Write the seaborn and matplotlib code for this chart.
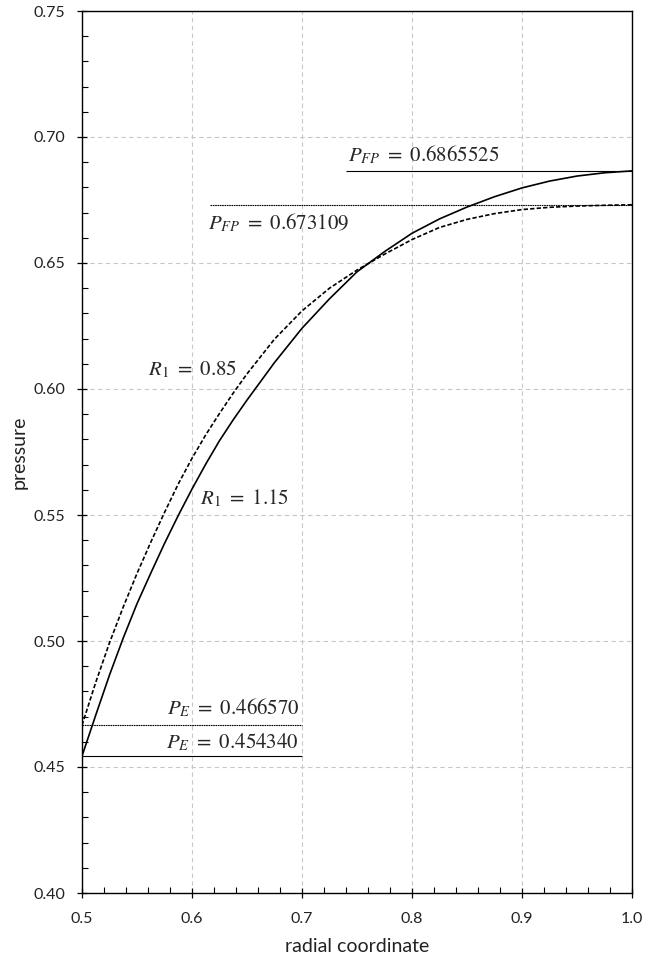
import matplotlib
matplotlib.use("Agg")
import matplotlib.pyplot as plt
import seaborn as sns
import pandas as pd
from matplotlib.ticker import MultipleLocator

# ---- data ----
radial = [0.500, 0.5125, 0.525, 0.5375, 0.550, 0.5625, 0.575, 0.5875, 0.600, 0.6125,
          0.625, 0.6375, 0.650, 0.675, 0.700, 0.725, 0.750, 0.775, 0.800, 0.825,
          0.850, 0.875, 0.900, 0.925, 0.950, 0.975, 1.000]
p_r115 = [0.45434, 0.4706, 0.4865, 0.5012, 0.5148, 0.5269, 0.5387, 0.5498, 0.5603, 0.5702,
          0.5795, 0.5878, 0.5956, 0.6105, 0.6241, 0.6358, 0.6465, 0.6545, 0.6618, 0.6675,
          0.6722, 0.6763, 0.6798, 0.6825, 0.6845, 0.6858, 0.6865525]
p_r085 = [0.46657, 0.4836, 0.4993, 0.5135, 0.5268, 0.5392, 0.5510, 0.5623, 0.5725, 0.5818,
          0.5903, 0.5984, 0.6060, 0.6198, 0.6310, 0.6400, 0.6472, 0.6535, 0.6593, 0.6641,
          0.6673, 0.6696, 0.6712, 0.6721, 0.6726, 0.6729, 0.673109]
series_labels = ["1.15", "0.85"]

pfp_115, pfp_085 = 0.6865525, 0.673109
pe_115, pe_085 = 0.454340, 0.466570

df = pd.DataFrame({
    "radial": radial + radial,
    "pressure": p_r115 + p_r085,
    "R1": [series_labels[0]] * len(radial) + [series_labels[1]] * len(radial),
})

sns.set_theme(style="white")
plt.rcParams["font.family"] = ["Lato", "DejaVu Sans"]
plt.rcParams["mathtext.fontset"] = "stix"

fig = plt.figure(figsize=(6.45, 9.61), dpi=100)
ax = fig.add_axes([82 / 645, 1 - 893 / 961, (632 - 82) / 645, (893 - 11) / 961])

sns.lineplot(data=df, x="radial", y="pressure", style="R1",
             dashes={"1.15": "", "0.85": (2.6, 1.3)}, color="black",
             linewidth=1.2, legend=False, ax=ax)

# reference levels
ax.hlines(pfp_115, 0.7400, 1.0, color="black", linewidth=0.8)
ax.hlines(pfp_085, 0.6164, 1.0, color="black", linewidth=0.8, linestyles=(0, (1.5, 0.6)))
ax.hlines(pe_085, 0.5, 0.7, color="black", linewidth=0.8, linestyles=(0, (1.5, 0.6)))
ax.hlines(pe_115, 0.5, 0.7, color="black", linewidth=0.8)

fs = 15
ax.text(0.7418, 0.6902, r"$P_{FP}\ =\ 0.6865525$", fontsize=fs, ha="left", va="baseline")
ax.text(0.6150, 0.6635, r"$P_{FP}\ =\ 0.673109$", fontsize=fs, ha="left", va="baseline")
ax.text(0.6980, 0.4709, r"$P_{E}\ =\ 0.466570$", fontsize=fs, ha="right", va="baseline")
ax.text(0.6966, 0.4576, r"$P_{E}\ =\ 0.454340$", fontsize=fs, ha="right", va="baseline")
ax.text(0.6406, 0.6056, r"$R_1\ =\ 0.85$", fontsize=fs, ha="right", va="baseline")
ax.text(0.6882, 0.5544, r"$R_1\ =\ 1.15$", fontsize=fs, ha="right", va="baseline")

ax.set_xlim(0.5, 1.0)
ax.set_ylim(0.40, 0.75)
ax.xaxis.set_major_locator(MultipleLocator(0.1))
ax.xaxis.set_minor_locator(MultipleLocator(0.02))
ax.yaxis.set_major_locator(MultipleLocator(0.05))
ax.yaxis.set_minor_locator(MultipleLocator(0.01))
ax.xaxis.set_major_formatter(plt.FuncFormatter(lambda v, p: f"{v:.1f}"))
ax.yaxis.set_major_formatter(plt.FuncFormatter(lambda v, p: f"{v:.2f}"))

ax.grid(True, which="major", color="#c8c8c8", linestyle=(0, (4, 3)), linewidth=0.8)
ax.set_axisbelow(True)

for s in ax.spines.values():
    s.set_visible(True)
    s.set_color("black")
    s.set_linewidth(1.0)

ax.tick_params(which="major", direction="inout", length=7, width=0.9, color="black",
               labelsize=11.5, labelcolor="#222222", bottom=True, left=True, top=False, right=False)
ax.tick_params(axis="y", which="major", pad=8.5)
ax.tick_params(axis="x", which="major", pad=10.5)
ax.tick_params(which="minor", direction="in", length=4, width=0.8, color="black",
               bottom=True, left=True, top=False, right=False)

ax.set_xlabel("radial coordinate", fontsize=14, color="#222222", labelpad=8)
ax.set_ylabel("pressure", fontsize=14, color="#222222", labelpad=4)

fig.savefig("out.png", dpi=100)
